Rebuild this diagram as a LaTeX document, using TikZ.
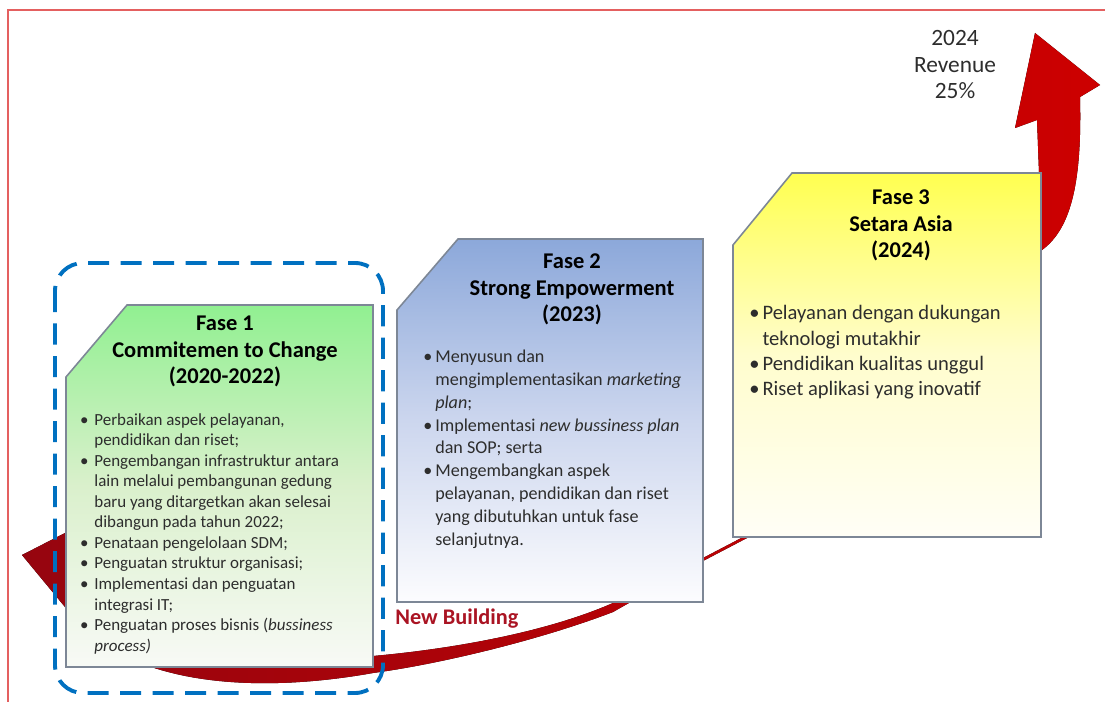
\documentclass[tikz,border=0pt]{standalone}
\usepackage{fontspec}
\setmainfont{Carlito}
\usepackage{xcolor}
\usepackage{tikz}

\definecolor{frame}{RGB}{228,96,96}
\definecolor{boxblue}{RGB}{0,112,192}
\definecolor{arrowdk}{RGB}{150,5,15}
\definecolor{arrowlt}{RGB}{205,0,0}
\definecolor{edge}{RGB}{125,135,150}
\definecolor{txt}{RGB}{45,45,45}
\definecolor{nbred}{RGB}{170,20,35}
\definecolor{g1top}{RGB}{145,240,145}
\definecolor{g1mid}{RGB}{218,240,204}
\definecolor{g1bot}{RGB}{248,250,246}
\definecolor{b2top}{RGB}{140,168,218}
\definecolor{b2mid}{RGB}{204,214,238}
\definecolor{b2bot}{RGB}{252,252,254}
\definecolor{y3top}{RGB}{255,255,80}
\definecolor{y3mid}{RGB}{255,253,205}
\definecolor{y3bot}{RGB}{255,254,246}

\newcommand{\bul}[1]{\makebox[#1]{\textbullet}}

\begin{document}
\begin{tikzpicture}[x=0.02cm, y=-0.02cm,
    phase/.style={draw=edge, line width=0.9pt},
    head/.style={anchor=base, inner sep=0pt, font=\fontsize{12.8}{14.8}\selectfont\bfseries},
    items/.style={anchor=base west, inner sep=0pt, text=txt}]
  \useasboundingbox (0,0) rectangle (1105,702);

  % frame
  \draw[frame, line width=1.2pt] (8,702) -- (8,10) -- (1105,10);

  % red arrow
  \fill[left color=arrowdk, right color=arrowlt]
    (22,555) -- (65,533) .. controls (150,600) and (280,650) .. (373,656)
    .. controls (440,650) and (540,635) .. (613,603) -- (703,558) -- (747,535)
    .. controls (880,450) and (1030,330) .. (1039,173) -- (1037,120)
    -- (1015,128) -- (1035,33) -- (1100,85) -- (1080,97)
    .. controls (1082,180) and (1072,228) .. (1042,250)
    .. controls (1000,330) and (850,470) .. (747,538) -- (703,561) -- (613,612)
    .. controls (540,640) and (440,664) .. (373,673)
    .. controls (250,695) and (120,685) .. (65,607) -- cycle;

  % phase boxes
  \path[phase, top color=g1top, bottom color=g1bot, middle color=g1mid]
    (127,305) -- (373,305) -- (373,667) -- (66,667) -- (66,377) -- cycle;
  \path[phase, top color=b2top, bottom color=b2bot, middle color=b2mid]
    (458,239) -- (703,239) -- (703,602) -- (397,602) -- (397,310) -- cycle;
  \path[phase, top color=y3top, bottom color=y3bot, middle color=y3mid]
    (792,173) -- (1041,173) -- (1041,537) -- (733,537) -- (733,245) -- cycle;

  \node (f1) at (225,331) [head] {\begin{tabular}[t]{@{}c@{}}Fase 1\\Commitemen to Change\\(2020-2022)\end{tabular}};
  \node (f2) at (572,269) [head] {\begin{tabular}[t]{@{}c@{}}Fase 2\\Strong Empowerment\\(2023)\end{tabular}};
  \node (f3) at (901,205) [head] {\begin{tabular}[t]{@{}c@{}}Fase 3\\Setara Asia\\(2024)\end{tabular}};

  \node (l1) at (74,425) [items, font=\fontsize{9.65}{11.7}\selectfont] {\begin{tabular}[t]{@{}l@{}l@{}}
    \bul{11.4pt} & Perbaikan aspek pelayanan,\\
     & pendidikan dan riset;\\
    \bul{11.4pt} & Pengembangan infrastruktur antara\\
     & lain melalui pembangunan gedung\\
     & baru yang ditargetkan akan selesai\\
     & dibangun pada tahun 2022;\\
    \bul{11.4pt} & Penataan pengelolaan SDM;\\
    \bul{11.4pt} & Penguatan struktur organisasi;\\
    \bul{11.4pt} & Implementasi dan penguatan\\
     & integrasi IT;\\
    \bul{11.4pt} & Penguatan proses bisnis (\textit{bussiness}\\
     & \textit{process)}
  \end{tabular}};

  \node (l2) at (420,362.5) [items, font=\fontsize{10.3}{13}\selectfont] {\begin{tabular}[t]{@{}l@{}l@{}}
    \bul{8.5pt} & Menyusun dan\\
     & mengimplementasikan \textit{marketing}\\
     & \textit{plan};\\
    \bul{8.5pt} & Implementasi \textit{new bussiness plan}\\
     & dan SOP; serta\\
    \bul{8.5pt} & Mengembangkan aspek\\
     & pelayanan, pendidikan dan riset\\
     & yang dibutuhkan untuk fase\\
     & selanjutnya.
  \end{tabular}};

  \node (l3) at (746,320) [items, font=\fontsize{11.7}{14.4}\selectfont] {\begin{tabular}[t]{@{}l@{}l@{}}
    \bul{9.2pt} & Pelayanan dengan dukungan\\
     & teknologi mutakhir\\
    \bul{9.2pt} & Pendidikan kualitas unggul\\
    \bul{9.2pt} & Riset aplikasi yang inovatif
  \end{tabular}};

  \node (rev) at (955,45.7) [anchor=base, inner sep=0pt, text=txt, font=\fontsize{13.3}{15}\selectfont] {\begin{tabular}[t]{@{}c@{}}2024\\Revenue\\25\%\end{tabular}};
  \node (nb) at (395,624) [anchor=base west, inner sep=0pt, text=nbred, font=\fontsize{12.7}{15}\selectfont\bfseries] {New Building};

  % focus on phase 1
  \draw[boxblue, line width=2.2pt, dash pattern=on 12pt off 6.5pt, rounded corners=5.6mm] (55,263) rectangle (383,693);
\end{tikzpicture}
\end{document}
